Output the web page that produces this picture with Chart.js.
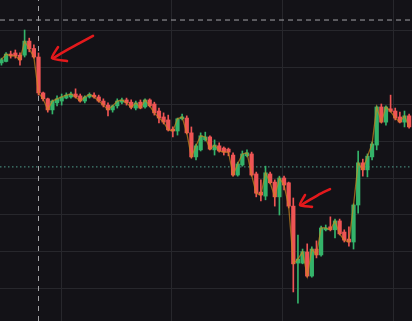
<!DOCTYPE html>
<html>
<head>
<meta charset="utf-8">
<script src="https://cdn.jsdelivr.net/npm/chart.js@4/dist/chart.umd.min.js"></script>
<style>
  html, body { margin: 0; padding: 0; background: #131217; }
  #wrap { width: 412px; height: 321px; position: relative; }
</style>
</head>
<body>
<div id="wrap"><canvas id="chart"></canvas></div>
<script>
// candle prices, one entry per bar (index = position)
const opens  = [91.1,91.5,93.5,93.8,93.2,93.2,97.0,95.0,92.7,83.0,81.4,78.4,80.3,80.8,81.6,81.9,82.7,82.2,80.8,81.9,
                82.4,81.9,80.8,79.7,78.4,79.5,80.5,81.1,80.5,78.9,80.5,79.2,81.1,80.0,78.1,76.5,75.7,73.2,72.7,76.0,
                76.2,72.2,65.7,67.6,70.3,71.1,67.6,68.7,68.1,67.8,66.2,60.8,63.5,66.0,66.5,61.1,56.2,55.1,61.1,58.9,
                54.9,60.0,58.7,52.4,37.0,37.0,40.0,33.5,40.8,39.2,46.0,46.8,46.0,48.4,45.4,43.5,42.7,52.7,64.1,62.2,
                65.7,68.9,79.2,75.1,78.7,78.1,76.5,75.1,76.8];
const highs  = [92.4,93.9,94.3,94.6,93.8,100.0,97.8,96.0,93.8,83.2,81.6,81.1,82.2,82.7,83.0,83.2,84.1,82.7,82.2,83.0,
                83.0,82.4,81.4,80.3,79.7,81.4,81.6,81.6,81.1,80.8,81.1,81.4,81.4,80.5,78.9,77.6,77.0,73.8,76.2,77.3,
                76.8,73.8,69.2,72.2,72.4,71.4,70.3,69.5,68.4,68.1,66.8,64.3,67.3,67.6,67.0,61.6,59.5,63.2,61.6,59.5,
                60.5,60.5,58.9,54.6,44.6,40.8,42.2,41.4,43.0,47.0,47.3,49.5,48.9,48.9,46.0,46.8,53.0,67.3,65.1,66.5,
                69.7,79.5,80.0,79.5,82.4,78.9,77.8,78.1,77.3];
const lows   = [90.5,91.4,92.4,92.4,90.5,92.7,94.1,92.4,82.4,80.8,77.8,77.3,79.5,79.7,81.4,81.6,81.6,80.5,80.3,81.6,
                81.6,80.5,79.2,76.8,77.8,78.9,80.0,79.7,78.7,78.4,78.7,78.9,79.2,77.0,74.9,74.6,72.7,71.1,71.6,75.7,
                71.9,65.4,64.9,67.3,70.0,67.6,66.2,67.0,66.2,66.0,60.5,60.5,63.2,65.7,60.5,54.9,53.8,54.1,58.4,52.4,
                50.0,56.8,51.9,29.2,26.2,36.8,33.2,33.2,38.4,38.9,45.7,45.7,43.8,44.6,42.7,41.6,40.8,50.5,60.5,60.3,
                64.9,67.6,74.9,74.3,77.8,75.7,74.9,73.8,73.5];
const closes = [92.0,93.5,93.0,93.0,91.9,97.0,94.9,92.7,83.0,81.4,78.4,80.8,81.4,81.9,82.4,82.7,81.9,80.8,81.9,82.6,
                81.9,80.8,79.7,78.4,79.5,80.8,81.1,80.3,79.1,80.3,78.9,81.1,79.5,77.6,76.2,75.1,73.0,72.7,76.0,76.5,
                72.2,65.7,68.7,71.4,71.1,67.8,68.9,67.3,67.0,67.0,60.8,63.8,66.5,66.8,60.8,55.9,55.4,61.4,58.7,54.9,
                60.0,58.1,52.4,36.8,38.1,40.1,33.5,40.8,39.2,46.5,46.5,46.0,48.4,44.9,43.2,42.7,52.7,64.1,62.2,65.9,
                69.2,79.2,75.1,79.2,78.0,76.2,75.1,76.8,73.8];

// reference levels / crosshair
const dashedLevel = 102.7;
const dottedLevel = 63.0;
const crosshairIndex = 8;

// axis ranges and grid ticks
const xRange = [-0.311, 88.62];
const yRange = [21.35, 108.11];
const xGridTicks = [12.86, 36.81, 60.77, 84.73];
const yGridTicks = [30, 40, 50, 60, 70, 80, 90, 100];

// hand drawn arrows (index, price)
const arrow1Shaft = [[19.76, 98.4], [16.96, 96.5], [13.72, 94.3], [11.13, 92.4]];
const arrow1Head  = [[12.21, 95.4], [10.91, 92.4], [14.15, 91.6]];
const arrow2Shaft = [[70.92, 57.0], [68.33, 55.4], [64.66, 52.7]];
const arrow2Head  = [[65.52, 55.4], [64.44, 52.7], [67.03, 52.2]];

const UP = '#34b36a';
const DOWN = '#ee5454';
const ARROW = '#e3191c';

const idx = closes.map((_, i) => i);
const candleColor = idx.map(i => closes[i] >= opens[i] ? UP : DOWN);
const toPts = arr => arr.map(p => ({ x: p[0], y: p[1] }));

const ctx = document.getElementById('chart').getContext('2d');
new Chart(ctx, {
    type: 'bar',
    data: {
        datasets: [
            {
                type: 'line',
                data: toPts(arrow1Shaft),
                borderColor: ARROW, borderWidth: 2.6, tension: 0.4,
                borderCapStyle: 'round', borderJoinStyle: 'round', pointRadius: 0, order: 0
            },
            {
                type: 'line',
                data: toPts(arrow1Head),
                borderColor: ARROW, borderWidth: 2.6, tension: 0.2,
                borderCapStyle: 'round', borderJoinStyle: 'round', pointRadius: 0, order: 0
            },
            {
                type: 'line',
                data: toPts(arrow2Shaft),
                borderColor: ARROW, borderWidth: 2.6, tension: 0.3,
                borderCapStyle: 'round', borderJoinStyle: 'round', pointRadius: 0, order: 0
            },
            {
                type: 'line',
                data: toPts(arrow2Head),
                borderColor: ARROW, borderWidth: 2.6, tension: 0.2,
                borderCapStyle: 'round', borderJoinStyle: 'round', pointRadius: 0, order: 0
            },
            {
                // close line
                type: 'line',
                data: idx.map(i => ({ x: i, y: closes[i] })),
                borderColor: 'rgba(205,135,30,0.7)', borderWidth: 1.3,
                pointRadius: 0, tension: 0, order: 1
            },
            {
                // bodies
                data: idx.map(i => ({ x: i, y: [opens[i], closes[i]] })),
                backgroundColor: candleColor,
                barThickness: 3.6, minBarLength: 1, grouped: false, order: 2
            },
            {
                // wicks
                data: idx.map(i => ({ x: i, y: [lows[i], highs[i]] })),
                backgroundColor: candleColor,
                barThickness: 1, grouped: false, order: 3
            },
            {
                type: 'line',
                data: [{ x: xRange[0], y: dashedLevel }, { x: xRange[1], y: dashedLevel }],
                borderColor: '#a3a3a6', borderWidth: 1, borderDash: [5, 4],
                pointRadius: 0, order: 4
            },
            {
                type: 'line',
                data: [{ x: xRange[0], y: dottedLevel }, { x: xRange[1], y: dottedLevel }],
                borderColor: '#4f9f8c', borderWidth: 1, borderDash: [1.5, 2.5],
                pointRadius: 0, order: 4
            },
            {
                type: 'line',
                data: [{ x: crosshairIndex, y: yRange[0] }, { x: crosshairIndex, y: yRange[1] }],
                borderColor: '#a3a3a6', borderWidth: 1, borderDash: [5, 5],
                pointRadius: 0, order: 4
            }
        ]
    },
    options: {
        responsive: true,
        maintainAspectRatio: false,
        animation: false,
        layout: { padding: 0 },
        plugins: {
            legend: { display: false },
            tooltip: { enabled: false }
        },
        scales: {
            x: {
                type: 'linear',
                min: xRange[0], max: xRange[1],
                offset: false,
                afterBuildTicks: axis => { axis.ticks = xGridTicks.map(v => ({ value: v })); },
                ticks: { display: false },
                border: { display: false },
                grid: { color: '#27272c', lineWidth: 1, drawTicks: false, offset: false }
            },
            y: {
                min: yRange[0], max: yRange[1],
                afterBuildTicks: axis => { axis.ticks = yGridTicks.map(v => ({ value: v })); },
                ticks: { display: false },
                border: { display: false },
                grid: { color: '#27272c', lineWidth: 1, drawTicks: false }
            }
        }
    }
});
</script>
</body>
</html>
